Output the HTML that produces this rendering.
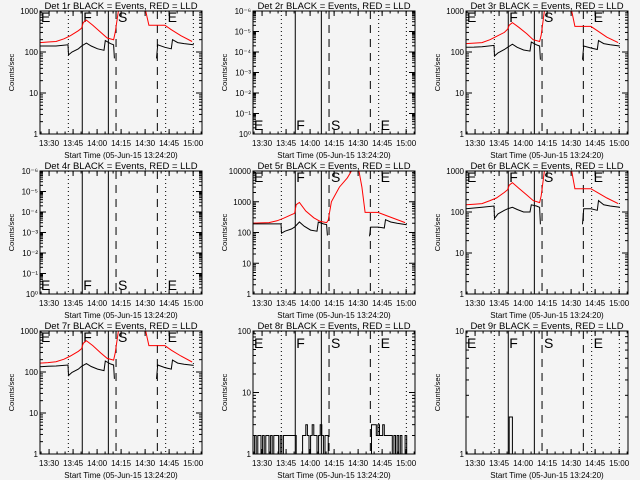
<!DOCTYPE html>
<html><head><meta charset="utf-8"><style>
body{margin:0;background:#f4f4f4}
svg{display:block}
text{font-family:"Liberation Sans",sans-serif;fill:#000}
</style></head><body>
<svg id="chart" width="640" height="480" viewBox="0 0 640 480">
<rect width="640" height="480" fill="#f4f4f4"/>
</svg>
<script>
// time axis: minutes from start 13:24:20
const tickLabels = ["13:30","13:45","14:00","14:15","14:30","14:45","15:00"];
const tickMinutes = [5.667,20.667,35.667,50.667,65.667,80.667,95.667];
const markerLetters = ["E","F","S","E"];
const dottedLines = [17.7,78.5,95.8];
const solidLines = [26.4,42.7];
const dashedLines = [47.5,73.3];
const blackT = [0,5,10,17.5,17.8,20,24,26,29,32,36,40,40.8,44,46,46.5,null,72.8,73.5,78,82,82.8,86,90,96];
const redT = [0,5,10,15,19,24,26,27,29,33,38,42,46,47,49,50,null,64,66,68,78,82,88,95];
const red5T = [0,5,10,15,19,24,26,27,29,33,38,42,46,47,49,54,59,62,66,68,70,78,85,95];
const p1Black = [140,140,140,150,85,100,120,140,165,140,120,110,190,160,150,70,null,70,150,130,120,200,170,160,150];
const p1Red = [170,175,180,210,250,330,380,520,600,450,300,220,200,300,1000,3000,null,3000,1000,450,450,350,250,180];
const p3Black = [130,132,135,145,80,95,115,130,155,130,112,105,175,150,140,65,null,65,140,125,115,190,160,150,140];
const p3Red = [160,165,170,200,240,300,360,450,520,400,280,200,180,260,1000,3000,null,3000,1000,420,420,330,230,170];
const p5Black = [190,190,190,190,95,110,130,150,220,160,120,110,220,190,180,80,null,75,150,150,140,260,220,200,180];
const p5Red = [200,205,210,240,290,380,420,800,950,500,300,230,210,250,1000,3000,6000,11000,11000,3000,450,450,330,210];
const p6Black = [120,125,130,140,70,90,110,120,130,115,100,100,150,140,130,50,null,50,120,120,110,190,150,140,130];
const p6Red = [150,155,160,190,220,300,350,450,520,380,260,190,170,250,1000,3000,null,3000,1000,370,370,300,220,160];
const p7Black = [135,138,140,148,82,98,118,138,160,136,118,108,185,158,148,68,null,68,148,128,118,195,165,155,145];
const p7Red = [165,170,178,205,245,320,370,500,580,440,290,215,195,290,1000,3000,null,3000,1000,440,440,340,245,175];
const p8Counts = [1,2,1,2,2,1,2,1,2,2,1,2,1,2,2,2,1,2,1,2, 2,2,2,2,2,2,2, 1,1,1,1, 2,2,3,2,1,2,3,2,2,1,2,3,2,1,2,2, 0,0,0,0,0,0,0,0,0,0,0,0,0,0,0,0,0,0,0,0,0,0,0,0,0,0,0, 3,3,3, 2,3,2,2,3,2,2,2,2,2, 1,2,1,2,1,2,1,1,2,1, 1];
const p9Counts = [1,1,1,1,1,1,1,1,1,1,1,1,1,1,1,1,1,1,1,1,1,1,1,1,1,1,1,2,2,1,1];

const NS="http://www.w3.org/2000/svg";
const svg=document.getElementById('chart');
function mk(tag,attrs,parent){const e=document.createElementNS(NS,tag);for(const k in attrs)e.setAttribute(k,attrs[k]);(parent||svg).appendChild(e);return e;}

const panels=[
 {n:1,c:0,r:0,lo:0,hi:3,labels:["1","10","100","1000"],black:p1Black,red:p1Red,rt:redT,let:"top"},
 {n:2,c:1,r:0,lo:0,hi:6,labels:["10\u2070","10\u207B\u00B9","10\u207B\u00B2","10\u207B\u00B3","10\u207B\u2074","10\u207B\u2075","10\u207B\u2076"],let:"bottom"},
 {n:3,c:2,r:0,lo:0,hi:3,labels:["1","10","100","1000"],black:p3Black,red:p3Red,rt:redT,let:"top"},
 {n:4,c:0,r:1,lo:0,hi:6,labels:["10\u2070","10\u207B\u00B9","10\u207B\u00B2","10\u207B\u00B3","10\u207B\u2074","10\u207B\u2075","10\u207B\u2076"],let:"bottom"},
 {n:5,c:1,r:1,lo:0,hi:4,labels:["1","10","100","1000","10000"],black:p5Black,red:p5Red,rt:red5T,let:"top"},
 {n:6,c:2,r:1,lo:0,hi:3,labels:["1","10","100","1000"],black:p6Black,red:p6Red,rt:redT,let:"top"},
 {n:7,c:0,r:2,lo:0,hi:3,labels:["1","10","100","1000"],black:p7Black,red:p7Red,rt:redT,let:"top"},
 {n:8,c:1,r:2,lo:0,hi:2,labels:["1","10","100"],step:p8Counts,let:"top2"},
 {n:9,c:2,r:2,lo:0,hi:1,labels:["1","10"],step:p9Counts,let:"top2"}
];
const TMAX=101.2;
panels.forEach(p=>{
  const x0=p.c*213+40, x1=x0+162, y0=p.r*160+11, y1=y0+123;
  const g=mk('g',{});
  
  
  const X=t=>x0+t/TMAX*(x1-x0);
  const Y=v=>{const l=Math.log10(Math.max(v,1e-9));return y1-(l-p.lo)/(p.hi-p.lo)*(y1-y0);};
  const cp=mk('clipPath',{id:'cp'+p.n},g);mk('rect',{x:x0,y:y0,width:x1-x0,height:y1-y0},cp);
  const tt=mk('text',{x:(x0+x1)/2,y:y0-2,'font-size':9.5,'text-anchor':'middle'},g);
  tt.textContent='Det '+p.n+'r BLACK = Events, RED = LLD';
  
  
  const yl=mk('text',{x:0,y:0,'font-size':7.5,'text-anchor':'middle',transform:`translate(${p.c*213+14},${(y0+y1)/2}) rotate(-90)`},g);
  yl.textContent='Counts/sec';
  
  
  const xl=mk('text',{x:(x0+x1)/2,y:y1+24,'font-size':8,'text-anchor':'middle'},g);
  xl.textContent='Start Time (05-Jun-15 13:24:20)';
  
  
  tickMinutes.forEach((m,i)=>{
    mk('line',{x1:X(m),x2:X(m),y1:y1,y2:y1-5,stroke:'#000'},g);
    mk('line',{x1:X(m),x2:X(m),y1:y0,y2:y0+5,stroke:'#000'},g);
    const tl=mk('text',{x:X(m),y:y1+12,'font-size':8,'text-anchor':'middle'},g);
    tl.textContent=tickLabels[i];
    
    
  });
  for(let m=0.667;m<TMAX;m+=5){mk('line',{x1:X(m),x2:X(m),y1:y1,y2:y1-2.5,stroke:'#000'},g);mk('line',{x1:X(m),x2:X(m),y1:y0,y2:y0+2.5,stroke:'#000'},g);}
  for(let d=p.lo;d<=p.hi;d++){
    const yy=Y(Math.pow(10,d));
    mk('line',{x1:x0,x2:x0+6,y1:yy,y2:yy,stroke:'#000'},g);
    mk('line',{x1:x1,x2:x1-6,y1:yy,y2:yy,stroke:'#000'},g);
    const lb=mk('text',{x:x0-2,y:yy+3,'font-size':8,'text-anchor':'end'},g);
    lb.textContent=p.labels[d-p.lo];
    
    
    if(d<p.hi)for(let k=2;k<10;k++){const ym=Y(k*Math.pow(10,d));mk('line',{x1:x0,x2:x0+3,y1:ym,y2:ym,stroke:'#000'},g);mk('line',{x1:x1,x2:x1-3,y1:ym,y2:ym,stroke:'#000'},g);}
  }
  dottedLines.forEach(m=>mk('line',{x1:X(m),x2:X(m),y1:y0,y2:y1,stroke:'#000','stroke-dasharray':'1,3'},g));
  solidLines.forEach(m=>mk('line',{x1:X(m),x2:X(m),y1:y0,y2:y1,stroke:'#000'},g));
  dashedLines.forEach(m=>mk('line',{x1:X(m),x2:X(m),y1:y0,y2:y1,stroke:'#000','stroke-dasharray':'8,6'},g));
  const lx=[x0+1,X(solidLines[0])+1,X(dashedLines[0])+2,X(dottedLines[1])+2];
  const ly=p.let==='top'?y0+11:(p.let==='bottom'?y1-4:y0+17);
  markerLetters.forEach((L,i)=>{const t=mk('text',{x:lx[i],y:ly,'font-size':14,'font-weight':'300'},g);t.textContent=L;
    
    });
  const cg=mk('g',{'clip-path':`url(#cp${p.n})`},g);
  function series(ts,vs,col,name){
    let d='',pen=false;
    for(let i=0;i<ts.length;i++){
      if(ts[i]===null||vs[i]===null){pen=false;continue;}
      d+=(pen?'L':'M')+X(ts[i]).toFixed(1)+','+Y(vs[i]).toFixed(1);pen=true;
    }
    const pa=mk('path',{d:d,fill:'none',stroke:col,'stroke-width':1},cg);
    
    
  }
  if(p.red){series(p.rt,p.red,'#f00','lld-red-line');series(blackT,p.black,'#000','events-black-line');}
  if(p.step){
    let d='';
    p.step.forEach((v,i)=>{const vv=Math.max(v,1);d+=(i?'L':'M')+X(i).toFixed(1)+','+Y(vv).toFixed(1)+'L'+X(i+1).toFixed(1)+','+Y(vv).toFixed(1);});
    const pa=mk('path',{d:d,fill:'none',stroke:'#000','stroke-width':1},cg);
    
    
  }
  const fr=mk('rect',{x:x0,y:y0,width:x1-x0,height:y1-y0,fill:'none',stroke:'#000','stroke-width':1},g);
  
  
});
</script>
</body></html>
